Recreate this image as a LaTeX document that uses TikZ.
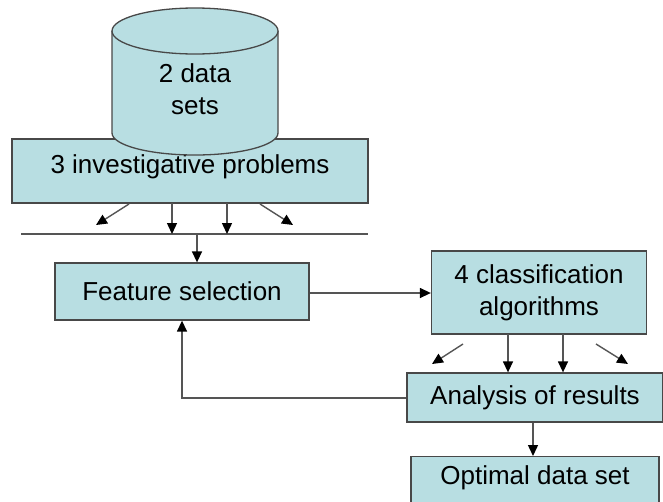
\documentclass[tikz,border=0pt]{standalone}
\usepackage{fontspec}
\setmainfont{Liberation Sans}
\usetikzlibrary{arrows.meta}
\definecolor{boxfill}{RGB}{184,222,226}
\definecolor{boxline}{RGB}{72,72,72}
\definecolor{wire}{RGB}{85,85,85}
\tikzset{
  txt/.style={align=center, font=\fontsize{26}{32}\selectfont, text=black, inner sep=0pt},
  box/.style={txt, draw=boxline, fill=boxfill, line width=1.3pt, inner sep=0pt},
  flow/.style={draw=wire, line width=1.4pt, -{Triangle[length=11pt,width=10pt,color=black]}},
  plain/.style={draw=wire, line width=1.4pt},
}
\begin{document}
\begin{tikzpicture}[x=1pt,y=-1pt]
\useasboundingbox (0,0) rectangle (663,501);

% problem box sits under the data-set cylinder
\node[box, minimum width=356pt, minimum height=64pt] (inv) at (190,171) {};
\node[txt] (invlbl) at (190,167) {3 investigative problems};

% data-set cylinder
\fill[boxfill] (112,31) -- (112,133) arc[start angle=180, end angle=360, x radius=83pt, y radius=22pt] -- (278,31) -- cycle;
\draw[boxline, line width=1.3pt] (112,31) -- (112,133) arc[start angle=180, end angle=360, x radius=83pt, y radius=22pt] -- (278,31);
\filldraw[fill=boxfill, draw=boxline, line width=1.3pt] (195,31) ellipse[x radius=83pt, y radius=23pt];
\node[txt] (db) at (195,89) {2 data\\sets};

% collecting bar
\coordinate (barL) at (21,234);
\coordinate (barR) at (368,234);
\draw[plain] (barL) -- (barR);
\coordinate (i1) at (129,204); \coordinate (t1) at (96,225);
\coordinate (i2) at (172,203); \coordinate (t2) at (172,234);
\coordinate (i3) at (227,203); \coordinate (t3) at (227,234);
\coordinate (i4) at (260,204); \coordinate (t4) at (293,225);
\draw[flow] (i1) -- (t1);
\draw[flow] (i2) -- (t2);
\draw[flow] (i3) -- (t3);
\draw[flow] (i4) -- (t4);

\node[box, minimum width=254pt, minimum height=57pt] (fs) at (182,291.5) {Feature selection};
\coordinate (barM) at (197,234);
\draw[flow] (barM) -- (fs.north -| barM);

\node[box, minimum width=215pt, minimum height=83pt] (cls) at (539,292.5) {4 classification\\algorithms};
\coordinate (row) at (0,293);
\draw[flow] (fs.east |- row) -- (cls.west |- row);

\node[box, minimum width=256pt, minimum height=49pt] (ana) at (535,397.5) {Analysis of results};

% four runs into the analysis
\coordinate (r1) at (463,344); \coordinate (s1) at (432,364);
\coordinate (c2) at (508,334);
\coordinate (c3) at (563,334);
\coordinate (r4) at (596,344); \coordinate (s4) at (628,364);
\draw[flow] (r1) -- (s1);
\draw[flow] (c2) -- (ana.north -| c2);
\draw[flow] (c3) -- (ana.north -| c3);
\draw[flow] (r4) -- (s4);

% feedback loop
\coordinate (fb) at (182,398);
\draw[flow] (ana.west |- fb) -- (fb) -- (fs.south);

\node[box, minimum width=248pt, minimum height=56pt, anchor=north] (opt) at (535,456) {};
\node[txt] (optlbl) at (535,478) {Optimal data set};
\coordinate (down) at (533,0);
\draw[flow] (ana.south -| down) -- (opt.north -| down);
\end{tikzpicture}
\end{document}
